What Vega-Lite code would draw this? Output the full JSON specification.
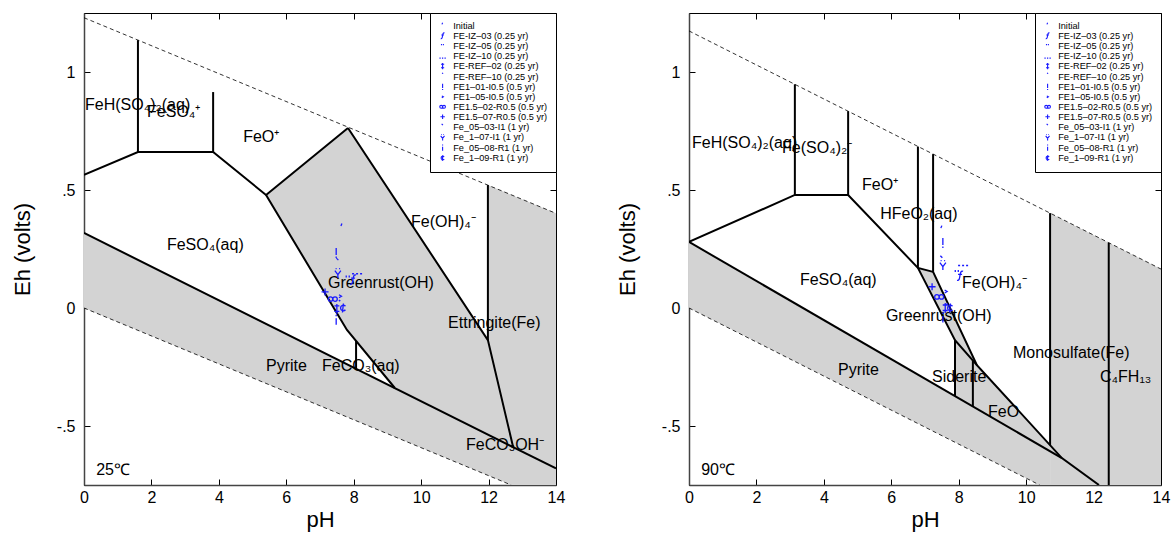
{
  "$schema": "https://vega.github.io/schema/vega-lite/v6.json",
  "padding": {"left": 10, "top": 12, "right": 5, "bottom": 5},
  "config": {
    "font": "Liberation Sans",
    "view": {"stroke": "black", "strokeWidth": 1},
    "axis": {"grid": false, "labelFlush": false, "labelFontSize": 16, "titleFontSize": 22, "titleFontWeight": "normal", "labelColor": "black", "titleColor": "black", "tickColor": "black", "domainColor": "#444", "domainWidth": 1.5, "labelFont": "Liberation Sans", "titleFont": "Liberation Sans"},
    "legend": {"labelFont": "Liberation Sans"}
  },
  "datasets": {
    "reg25": [
      {"reg": "pyr", "pH": 0, "top": 0.318, "bot": 0},
      {"reg": "pyr", "pH": 12.67, "top": -0.585, "bot": -0.75},
      {"reg": "pyr", "pH": 14, "top": -0.68, "bot": -0.75},
      {"reg": "gr", "pH": 5.4, "top": 0.479, "bot": 0.479},
      {"reg": "gr", "pH": 7.8, "top": 0.76, "bot": -0.093},
      {"reg": "gr", "pH": 7.83, "top": 0.763, "bot": -0.098},
      {"reg": "gr", "pH": 9.22, "top": 0.462, "bot": -0.339},
      {"reg": "gr", "pH": 11.98, "top": -0.136, "bot": -0.536},
      {"reg": "gr", "pH": 11.981, "top": 0.521, "bot": -0.536},
      {"reg": "gr", "pH": 14, "top": 0.401, "bot": -0.68}
    ],
    "lines25": [
      {"seg": "s1", "i": 1, "pH": 0, "Eh": 0.564},
      {"seg": "s1", "i": 2, "pH": 1.6, "Eh": 0.661},
      {"seg": "s1", "i": 3, "pH": 3.83, "Eh": 0.661},
      {"seg": "s1", "i": 4, "pH": 5.4, "Eh": 0.479},
      {"seg": "s1", "i": 5, "pH": 7.83, "Eh": 0.763},
      {"seg": "s2", "i": 1, "pH": 1.6, "Eh": 0.661},
      {"seg": "s2", "i": 2, "pH": 1.6, "Eh": 1.135},
      {"seg": "s3", "i": 1, "pH": 3.83, "Eh": 0.661},
      {"seg": "s3", "i": 2, "pH": 3.83, "Eh": 0.915},
      {"seg": "s4", "i": 1, "pH": 7.83, "Eh": 0.763},
      {"seg": "s4", "i": 2, "pH": 11.98, "Eh": -0.136},
      {"seg": "s4", "i": 3, "pH": 12.73, "Eh": -0.59},
      {"seg": "s5", "i": 1, "pH": 11.98, "Eh": 0.521},
      {"seg": "s5", "i": 2, "pH": 11.98, "Eh": -0.136},
      {"seg": "s6", "i": 1, "pH": 5.4, "Eh": 0.479},
      {"seg": "s6", "i": 2, "pH": 7.8, "Eh": -0.093},
      {"seg": "s6", "i": 3, "pH": 9.22, "Eh": -0.339},
      {"seg": "s7", "i": 1, "pH": 8.07, "Eh": -0.14},
      {"seg": "s7", "i": 2, "pH": 8.07, "Eh": -0.257},
      {"seg": "s8", "i": 1, "pH": 0, "Eh": 0.318},
      {"seg": "s8", "i": 2, "pH": 14, "Eh": -0.68}
    ],
    "water25": [
      {"seg": "w1", "i": 1, "pH": 0, "Eh": 1.23},
      {"seg": "w1", "i": 2, "pH": 14, "Eh": 0.401},
      {"seg": "w2", "i": 1, "pH": 0, "Eh": 0},
      {"seg": "w2", "i": 2, "pH": 12.67, "Eh": -0.75}
    ],
    "labels25": [
      {"label": "FeH(SO₄)₂(aq)", "pH": 0.03, "Eh": 0.86},
      {"label": "FeSO₄⁺", "pH": 1.87, "Eh": 0.83},
      {"label": "FeO⁺", "pH": 4.72, "Eh": 0.725},
      {"label": "FeSO₄(aq)", "pH": 2.46, "Eh": 0.267},
      {"label": "Fe(OH)₄⁻", "pH": 9.7, "Eh": 0.364},
      {"label": "Greenrust(OH)", "pH": 7.24, "Eh": 0.106},
      {"label": "Ettringite(Fe)", "pH": 10.8, "Eh": -0.064},
      {"label": "Pyrite", "pH": 5.4, "Eh": -0.246},
      {"label": "FeCO₃(aq)", "pH": 7.06, "Eh": -0.246},
      {"label": "FeCO₃OH⁻", "pH": 11.33, "Eh": -0.58},
      {"label": "25℃", "pH": 0.36, "Eh": -0.686}
    ],
    "pts25": [
      {"sample": "Initial", "pH": 7.65, "Eh": 0.339},
      {"sample": "FE-IZ–03 (0.25 yr)", "pH": 7.98, "Eh": 0.12},
      {"sample": "FE-IZ–05 (0.25 yr)", "pH": 7.83, "Eh": 0.125},
      {"sample": "FE-IZ–10 (0.25 yr)", "pH": 8.1, "Eh": 0.16},
      {"sample": "FE-REF–02 (0.25 yr)", "pH": 7.5, "Eh": -0.004},
      {"sample": "FE-REF–10 (0.25 yr)", "pH": 7.58, "Eh": 0.01},
      {"sample": "FE1–01-I0.5 (0.5 yr)", "pH": 7.48, "Eh": 0.233},
      {"sample": "FE1–05-I0.5 (0.5 yr)", "pH": 7.6, "Eh": 0.05},
      {"sample": "FE1.5–02-R0.5 (0.5 yr)", "pH": 7.38, "Eh": 0.038},
      {"sample": "FE1.5–07-R0.5 (0.5 yr)", "pH": 7.15, "Eh": 0.068},
      {"sample": "Fe_05–03-I1 (1 yr)", "pH": 7.53, "Eh": 0.19},
      {"sample": "Fe_1–07-I1 (1 yr)", "pH": 7.53, "Eh": 0.148},
      {"sample": "Fe_05–08-R1 (1 yr)", "pH": 7.48, "Eh": -0.05},
      {"sample": "Fe_1–09-R1 (1 yr)", "pH": 7.68, "Eh": 0.0}
    ],
    "reg90": [
      {"reg": "pyr", "pH": 0, "top": 0.28, "bot": 0},
      {"reg": "pyr", "pH": 10.4, "top": -0.581, "bot": -0.75},
      {"reg": "pyr", "pH": 10.71, "top": -0.607, "bot": -0.75},
      {"reg": "mono", "pH": 10.71, "top": 0.402, "bot": -0.75},
      {"reg": "mono", "pH": 14, "top": 0.165, "bot": -0.75},
      {"reg": "gr", "pH": 6.79, "top": 0.17, "bot": 0.17},
      {"reg": "gr", "pH": 7.24, "top": 0.153, "bot": 0.045},
      {"reg": "gr", "pH": 7.89, "top": -0.045, "bot": -0.136},
      {"reg": "gr", "pH": 7.891, "top": -0.045, "bot": -0.373},
      {"reg": "gr", "pH": 8.54, "top": -0.242, "bot": -0.427},
      {"reg": "gr", "pH": 10.71, "top": -0.581, "bot": -0.607}
    ],
    "lines90": [
      {"seg": "t1", "i": 1, "pH": 0, "Eh": 0.28},
      {"seg": "t1", "i": 2, "pH": 3.14, "Eh": 0.479},
      {"seg": "t1", "i": 3, "pH": 4.72, "Eh": 0.479},
      {"seg": "t1", "i": 4, "pH": 6.79, "Eh": 0.17},
      {"seg": "t1", "i": 5, "pH": 7.24, "Eh": 0.153},
      {"seg": "t2", "i": 1, "pH": 3.14, "Eh": 0.479},
      {"seg": "t2", "i": 2, "pH": 3.14, "Eh": 0.948},
      {"seg": "t3", "i": 1, "pH": 4.72, "Eh": 0.479},
      {"seg": "t3", "i": 2, "pH": 4.72, "Eh": 0.834},
      {"seg": "t4", "i": 1, "pH": 6.79, "Eh": 0.684},
      {"seg": "t4", "i": 2, "pH": 6.79, "Eh": 0.17},
      {"seg": "t5", "i": 1, "pH": 7.24, "Eh": 0.652},
      {"seg": "t5", "i": 2, "pH": 7.24, "Eh": 0.153},
      {"seg": "t6", "i": 1, "pH": 6.79, "Eh": 0.17},
      {"seg": "t6", "i": 2, "pH": 7.89, "Eh": -0.136},
      {"seg": "t6", "i": 3, "pH": 8.54, "Eh": -0.242},
      {"seg": "t7", "i": 1, "pH": 7.24, "Eh": 0.153},
      {"seg": "t7", "i": 2, "pH": 8.54, "Eh": -0.242},
      {"seg": "t7", "i": 3, "pH": 11.06, "Eh": -0.636},
      {"seg": "t7", "i": 4, "pH": 12.16, "Eh": -0.75},
      {"seg": "t8", "i": 1, "pH": 0, "Eh": 0.28},
      {"seg": "t8", "i": 2, "pH": 11.06, "Eh": -0.636},
      {"seg": "t9", "i": 1, "pH": 7.89, "Eh": -0.136},
      {"seg": "t9", "i": 2, "pH": 7.89, "Eh": -0.373},
      {"seg": "t10", "i": 1, "pH": 8.42, "Eh": -0.222},
      {"seg": "t10", "i": 2, "pH": 8.42, "Eh": -0.417},
      {"seg": "t11", "i": 1, "pH": 10.71, "Eh": 0.402},
      {"seg": "t11", "i": 2, "pH": 10.71, "Eh": -0.581},
      {"seg": "t12", "i": 1, "pH": 12.45, "Eh": 0.276},
      {"seg": "t12", "i": 2, "pH": 12.45, "Eh": -0.75}
    ],
    "water90": [
      {"seg": "w1", "i": 1, "pH": 0, "Eh": 1.174},
      {"seg": "w1", "i": 2, "pH": 14, "Eh": 0.165},
      {"seg": "w2", "i": 1, "pH": 0, "Eh": 0},
      {"seg": "w2", "i": 2, "pH": 10.4, "Eh": -0.75}
    ],
    "labels90": [
      {"label": "FeH(SO₄)₂(aq)", "pH": 0.09, "Eh": 0.7},
      {"label": "Fe(SO₄)₂⁻", "pH": 2.76, "Eh": 0.678},
      {"label": "FeO⁺", "pH": 5.13, "Eh": 0.52},
      {"label": "HFeO₂(aq)", "pH": 5.67, "Eh": 0.4},
      {"label": "FeSO₄(aq)", "pH": 3.29, "Eh": 0.119},
      {"label": "Fe(OH)₄⁻", "pH": 8.1, "Eh": 0.106},
      {"label": "Greenrust(OH)", "pH": 5.84, "Eh": -0.034},
      {"label": "Pyrite", "pH": 4.42, "Eh": -0.263},
      {"label": "Siderite", "pH": 7.21, "Eh": -0.292},
      {"label": "FeO", "pH": 8.87, "Eh": -0.441},
      {"label": "Monosulfate(Fe)", "pH": 9.61, "Eh": -0.19},
      {"label": "C₄FH₁₃", "pH": 12.19, "Eh": -0.292},
      {"label": "90℃", "pH": 0.36, "Eh": -0.686}
    ],
    "pts90": [
      {"sample": "Initial", "pH": 7.5, "Eh": 0.33},
      {"sample": "FE-IZ–03 (0.25 yr)", "pH": 8.04, "Eh": 0.136},
      {"sample": "FE-IZ–05 (0.25 yr)", "pH": 7.95, "Eh": 0.148},
      {"sample": "FE-IZ–10 (0.25 yr)", "pH": 8.13, "Eh": 0.195},
      {"sample": "FE-REF–02 (0.25 yr)", "pH": 7.6, "Eh": 0.0},
      {"sample": "FE-REF–10 (0.25 yr)", "pH": 7.66, "Eh": -0.005},
      {"sample": "FE1–01-I0.5 (0.5 yr)", "pH": 7.53, "Eh": 0.275},
      {"sample": "FE1–05-I0.5 (0.5 yr)", "pH": 7.62, "Eh": 0.07},
      {"sample": "FE1.5–02-R0.5 (0.5 yr)", "pH": 7.42, "Eh": 0.047},
      {"sample": "FE1.5–07-R0.5 (0.5 yr)", "pH": 7.21, "Eh": 0.09},
      {"sample": "Fe_05–03-I1 (1 yr)", "pH": 7.5, "Eh": 0.2},
      {"sample": "Fe_1–07-I1 (1 yr)", "pH": 7.53, "Eh": 0.182},
      {"sample": "Fe_05–08-R1 (1 yr)", "pH": 7.53, "Eh": -0.04},
      {"sample": "Fe_1–09-R1 (1 yr)", "pH": 7.74, "Eh": 0.0}
    ]
  },
  "resolve": {"scale": {"shape": "independent"}, "legend": {"shape": "independent"}},
  "spacing": 49,
  "hconcat": [
    {
      "width": 472, "height": 472,
      "resolve": {"axis": {"x": "independent", "y": "independent"}},
      "layer": [
        {
          "data": {"name": "reg25"},
          "mark": {"type": "area", "fill": "#d3d3d3", "clip": true},
          "encoding": {
            "x": {"field": "pH", "type": "quantitative", "scale": {"domain": [0, 14], "nice": false}, "axis": {"title": "pH", "orient": "bottom", "values": [0, 2, 4, 6, 8, 10, 12, 14], "tickSize": -6, "labelPadding": 10, "titlePadding": 4}},
            "y": {"field": "top", "type": "quantitative", "scale": {"domain": [-0.75, 1.25], "nice": false, "zero": false}, "axis": {"title": "Eh (volts)", "orient": "left", "values": [-0.5, 0, 0.5, 1], "labelExpr": "datum.value == 1 ? '1' : datum.value == 0.5 ? '.5' : datum.value == 0 ? '0' : '-.5'", "tickSize": -6, "labelPadding": 15, "titlePadding": 20, "minExtent": 30, "maxExtent": 30}},
            "y2": {"field": "bot"},
            "detail": {"field": "reg"}
          }
        },
        {
          "data": {"name": "lines25"},
          "mark": {"type": "line", "color": "black", "strokeWidth": 2, "clip": true},
          "encoding": {
            "x": {"field": "pH", "type": "quantitative", "scale": {"domain": [0, 14], "nice": false}, "axis": null},
            "y": {"field": "Eh", "type": "quantitative", "scale": {"domain": [-0.75, 1.25], "nice": false, "zero": false}, "axis": null},
            "detail": {"field": "seg"},
            "order": {"field": "i"}
          }
        },
        {
          "data": {"name": "water25"},
          "mark": {"type": "line", "color": "black", "strokeWidth": 0.8, "strokeDash": [4, 3], "clip": true},
          "encoding": {
            "x": {"field": "pH", "type": "quantitative", "scale": {"domain": [0, 14], "nice": false}, "axis": {"orient": "top", "labels": false, "title": null, "domain": false, "values": [0, 2, 4, 6, 8, 10, 12, 14], "tickSize": -6, "minExtent": 0, "maxExtent": 0}},
            "y": {"field": "Eh", "type": "quantitative", "scale": {"domain": [-0.75, 1.25], "nice": false, "zero": false}, "axis": {"orient": "right", "labels": false, "title": null, "domain": false, "values": [-0.5, 0, 0.5, 1], "tickSize": -6, "minExtent": 0, "maxExtent": 0}},
            "detail": {"field": "seg"},
            "order": {"field": "i"}
          }
        },
        {
          "data": {"name": "labels25"},
          "mark": {"type": "text", "align": "left", "baseline": "middle", "fontSize": 16, "font": "Liberation Sans", "color": "black"},
          "encoding": {
            "x": {"field": "pH", "type": "quantitative", "scale": {"domain": [0, 14], "nice": false}, "axis": null},
            "y": {"field": "Eh", "type": "quantitative", "scale": {"domain": [-0.75, 1.25], "nice": false, "zero": false}, "axis": null},
            "text": {"field": "label"}
          }
        },
        {
          "data": {"name": "pts25"},
          "mark": {"type": "point", "filled": false, "color": "#1a1aff", "strokeWidth": 1.3, "size": 100, "opacity": 1},
          "encoding": {
            "x": {"field": "pH", "type": "quantitative", "scale": {"domain": [0, 14], "nice": false}, "axis": null},
            "y": {"field": "Eh", "type": "quantitative", "scale": {"domain": [-0.75, 1.25], "nice": false, "zero": false}, "axis": null},
            "shape": {
              "field": "sample", "type": "nominal",
              "scale": {
                "domain": ["Initial", "FE-IZ–03 (0.25 yr)", "FE-IZ–05 (0.25 yr)", "FE-IZ–10 (0.25 yr)", "FE-REF–02 (0.25 yr)", "FE-REF–10 (0.25 yr)", "FE1–01-I0.5 (0.5 yr)", "FE1–05-I0.5 (0.5 yr)", "FE1.5–02-R0.5 (0.5 yr)", "FE1.5–07-R0.5 (0.5 yr)", "Fe_05–03-I1 (1 yr)", "Fe_1–07-I1 (1 yr)", "Fe_05–08-R1 (1 yr)", "Fe_1–09-R1 (1 yr)"],
                "range": ["M0,-0.9L-0.2,-0.4", "M0.6,-0.9C0.2,-1.1 0.1,-0.7 0,-0.2C-0.1,0.4 -0.1,1 -0.6,0.9M-0.4,-0.3L0.4,-0.3", "M-0.35,-0.6L-0.35,-0.2M0.25,-0.6L0.25,-0.2", "M-1,0.7L-0.6,0.7M-0.2,0.7L0.2,0.7M0.6,0.7L1,0.7", "M0,-1L0,1M-0.5,-0.6L0.5,-0.6M-0.5,0.5L0.5,0.5", "M-0.15,-0.9L0,-1.05L0.15,-0.9", "M0,-1L0,0.4M0,0.7L0,1", "M-0.25,-0.3L0.25,0L-0.25,0.3", "M0,0A0.45,0.45 0 1 1 -0.9,0A0.45,0.45 0 1 1 0,0A0.45,0.45 0 1 1 0.9,0A0.45,0.45 0 1 1 0,0", "M-0.7,0L0.7,0M0,-0.7L0,0.7", "M-0.3,-1L0.1,-0.6", "M-0.6,-0.5L0,0.3L0.6,-0.5M0,0.3L0,1M-0.45,-0.9L-0.25,-0.9M0.25,-0.9L0.45,-0.9", "M0,-1L0,-0.7M0,-0.3L0,1", "M0.5,-0.35A0.55,0.55 0 1 0 0.5,0.35M0.1,-0.9L-0.1,0.9"]
              },
              "legend": {"title": null, "orient": "top-right", "offset": 0, "padding": 8, "rowPadding": -0.7, "labelFontSize": 9.2, "labelOffset": 6, "labelLimit": 200, "symbolSize": 40, "symbolStrokeColor": "#1a1aff", "symbolFillColor": "transparent", "symbolStrokeWidth": 1.1, "symbolOpacity": 1, "strokeColor": "black", "fillColor": "white", "cornerRadius": 0}
            }
          }
        }
      ]
    },
    {
      "width": 472, "height": 472,
      "resolve": {"axis": {"x": "independent", "y": "independent"}},
      "layer": [
        {
          "data": {"name": "reg90"},
          "mark": {"type": "area", "fill": "#d3d3d3", "clip": true},
          "encoding": {
            "x": {"field": "pH", "type": "quantitative", "scale": {"domain": [0, 14], "nice": false}, "axis": {"title": "pH", "orient": "bottom", "values": [0, 2, 4, 6, 8, 10, 12, 14], "tickSize": -6, "labelPadding": 10, "titlePadding": 4}},
            "y": {"field": "top", "type": "quantitative", "scale": {"domain": [-0.75, 1.25], "nice": false, "zero": false}, "axis": {"title": "Eh (volts)", "orient": "left", "values": [-0.5, 0, 0.5, 1], "labelExpr": "datum.value == 1 ? '1' : datum.value == 0.5 ? '.5' : datum.value == 0 ? '0' : '-.5'", "tickSize": -6, "labelPadding": 15, "titlePadding": 20, "minExtent": 30, "maxExtent": 30}},
            "y2": {"field": "bot"},
            "detail": {"field": "reg"}
          }
        },
        {
          "data": {"name": "lines90"},
          "mark": {"type": "line", "color": "black", "strokeWidth": 2, "clip": true},
          "encoding": {
            "x": {"field": "pH", "type": "quantitative", "scale": {"domain": [0, 14], "nice": false}, "axis": null},
            "y": {"field": "Eh", "type": "quantitative", "scale": {"domain": [-0.75, 1.25], "nice": false, "zero": false}, "axis": null},
            "detail": {"field": "seg"},
            "order": {"field": "i"}
          }
        },
        {
          "data": {"name": "water90"},
          "mark": {"type": "line", "color": "black", "strokeWidth": 0.8, "strokeDash": [4, 3], "clip": true},
          "encoding": {
            "x": {"field": "pH", "type": "quantitative", "scale": {"domain": [0, 14], "nice": false}, "axis": {"orient": "top", "labels": false, "title": null, "domain": false, "values": [0, 2, 4, 6, 8, 10, 12, 14], "tickSize": -6, "minExtent": 0, "maxExtent": 0}},
            "y": {"field": "Eh", "type": "quantitative", "scale": {"domain": [-0.75, 1.25], "nice": false, "zero": false}, "axis": {"orient": "right", "labels": false, "title": null, "domain": false, "values": [-0.5, 0, 0.5, 1], "tickSize": -6, "minExtent": 0, "maxExtent": 0}},
            "detail": {"field": "seg"},
            "order": {"field": "i"}
          }
        },
        {
          "data": {"name": "labels90"},
          "mark": {"type": "text", "align": "left", "baseline": "middle", "fontSize": 16, "font": "Liberation Sans", "color": "black"},
          "encoding": {
            "x": {"field": "pH", "type": "quantitative", "scale": {"domain": [0, 14], "nice": false}, "axis": null},
            "y": {"field": "Eh", "type": "quantitative", "scale": {"domain": [-0.75, 1.25], "nice": false, "zero": false}, "axis": null},
            "text": {"field": "label"}
          }
        },
        {
          "data": {"name": "pts90"},
          "mark": {"type": "point", "filled": false, "color": "#1a1aff", "strokeWidth": 1.3, "size": 100, "opacity": 1},
          "encoding": {
            "x": {"field": "pH", "type": "quantitative", "scale": {"domain": [0, 14], "nice": false}, "axis": null},
            "y": {"field": "Eh", "type": "quantitative", "scale": {"domain": [-0.75, 1.25], "nice": false, "zero": false}, "axis": null},
            "shape": {
              "field": "sample", "type": "nominal",
              "scale": {
                "domain": ["Initial", "FE-IZ–03 (0.25 yr)", "FE-IZ–05 (0.25 yr)", "FE-IZ–10 (0.25 yr)", "FE-REF–02 (0.25 yr)", "FE-REF–10 (0.25 yr)", "FE1–01-I0.5 (0.5 yr)", "FE1–05-I0.5 (0.5 yr)", "FE1.5–02-R0.5 (0.5 yr)", "FE1.5–07-R0.5 (0.5 yr)", "Fe_05–03-I1 (1 yr)", "Fe_1–07-I1 (1 yr)", "Fe_05–08-R1 (1 yr)", "Fe_1–09-R1 (1 yr)"],
                "range": ["M0,-0.9L-0.2,-0.4", "M0.6,-0.9C0.2,-1.1 0.1,-0.7 0,-0.2C-0.1,0.4 -0.1,1 -0.6,0.9M-0.4,-0.3L0.4,-0.3", "M-0.35,-0.6L-0.35,-0.2M0.25,-0.6L0.25,-0.2", "M-1,0.7L-0.6,0.7M-0.2,0.7L0.2,0.7M0.6,0.7L1,0.7", "M0,-1L0,1M-0.5,-0.6L0.5,-0.6M-0.5,0.5L0.5,0.5", "M-0.15,-0.9L0,-1.05L0.15,-0.9", "M0,-1L0,0.4M0,0.7L0,1", "M-0.25,-0.3L0.25,0L-0.25,0.3", "M0,0A0.45,0.45 0 1 1 -0.9,0A0.45,0.45 0 1 1 0,0A0.45,0.45 0 1 1 0.9,0A0.45,0.45 0 1 1 0,0", "M-0.7,0L0.7,0M0,-0.7L0,0.7", "M-0.3,-1L0.1,-0.6", "M-0.6,-0.5L0,0.3L0.6,-0.5M0,0.3L0,1M-0.45,-0.9L-0.25,-0.9M0.25,-0.9L0.45,-0.9", "M0,-1L0,-0.7M0,-0.3L0,1", "M0.5,-0.35A0.55,0.55 0 1 0 0.5,0.35M0.1,-0.9L-0.1,0.9"]
              },
              "legend": {"title": null, "orient": "top-right", "offset": 0, "padding": 8, "rowPadding": -0.7, "labelFontSize": 9.2, "labelOffset": 6, "labelLimit": 200, "symbolSize": 40, "symbolStrokeColor": "#1a1aff", "symbolFillColor": "transparent", "symbolStrokeWidth": 1.1, "symbolOpacity": 1, "strokeColor": "black", "fillColor": "white", "cornerRadius": 0}
            }
          }
        }
      ]
    }
  ]
}
